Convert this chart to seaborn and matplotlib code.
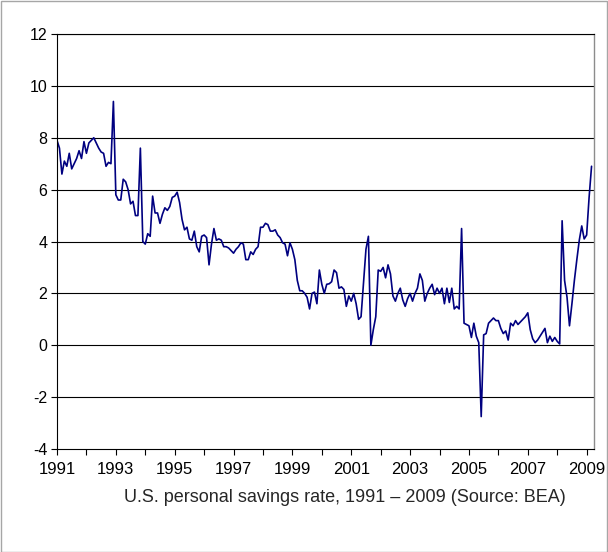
import matplotlib
matplotlib.use("Agg")
import matplotlib.pyplot as plt
import numpy as np
import pandas as pd
import seaborn as sns
from matplotlib.patches import Rectangle

# monthly personal savings rate (%), Jan 1991 onwards
rate_1991 = [7.9, 7.6, 6.6, 7.1, 6.9, 7.4, 6.8, 7.0, 7.2, 7.5, 7.2, 7.85]
rate_1992 = [7.4, 7.8, 7.9, 8.0, 7.8, 7.6, 7.45, 7.4, 6.9, 7.05, 7.0, 9.4]
rate_1993 = [5.8, 5.6, 5.6, 6.4, 6.3, 6.0, 5.45, 5.55, 5.0, 5.0, 7.6, 4.0]
rate_1994 = [3.9, 4.3, 4.2, 5.75, 5.1, 5.1, 4.7, 5.05, 5.3, 5.2, 5.35, 5.7]
rate_1995 = [5.75, 5.9, 5.5, 4.85, 4.45, 4.55, 4.1, 4.05, 4.4, 3.8, 3.6, 4.2]
rate_1996 = [4.25, 4.15, 3.1, 3.9, 4.5, 4.05, 4.1, 4.05, 3.8, 3.8, 3.75, 3.65]
rate_1997 = [3.55, 3.7, 3.8, 3.95, 3.9, 3.3, 3.3, 3.6, 3.5, 3.7, 3.8, 4.55]
rate_1998 = [4.55, 4.7, 4.65, 4.4, 4.4, 4.45, 4.25, 4.15, 3.95, 3.9, 3.45, 3.95]
rate_1999 = [3.7, 3.3, 2.5, 2.1, 2.1, 2.0, 1.85, 1.4, 2.0, 2.05, 1.6, 2.9]
rate_2000 = [2.35, 2.0, 2.35, 2.37, 2.45, 2.9, 2.8, 2.2, 2.25, 2.15, 1.5, 1.9]
rate_2001 = [1.7, 2.0, 1.6, 1.0, 1.1, 2.4, 3.7, 4.2, 0.0, 0.6, 1.1, 2.9]
rate_2002 = [2.85, 3.0, 2.6, 3.1, 2.75, 1.9, 1.7, 2.0, 2.2, 1.75, 1.5, 1.8]
rate_2003 = [2.0, 1.7, 2.0, 2.2, 2.75, 2.5, 1.7, 2.0, 2.2, 2.35, 1.95, 2.2]
rate_2004 = [2.0, 2.2, 1.6, 2.2, 1.65, 2.2, 1.4, 1.5, 1.4, 4.5, 0.85, 0.8]
rate_2005 = [0.75, 0.3, 0.85, 0.35, 0.1, -2.75, 0.4, 0.45, 0.85, 0.95, 1.05, 0.95]
rate_2006 = [0.95, 0.65, 0.45, 0.55, 0.2, 0.85, 0.75, 0.95, 0.8, 0.9, 1.0, 1.1]
rate_2007 = [1.25, 0.6, 0.25, 0.1, 0.2, 0.35, 0.5, 0.65, 0.1, 0.35, 0.15, 0.3]
rate_2008 = [0.15, 0.05, 4.8, 2.5, 1.85, 0.75, 1.6, 2.5, 3.3, 4.05, 4.6, 4.1]
rate_2009 = [4.25, 5.7, 6.9]

year_labels = ["1991", "1993", "1995", "1997", "1999", "2001", "2003", "2005", "2007", "2009"]
title_text = "U.S. personal savings rate, 1991 \u2013 2009 (Source: BEA)"

rates = (rate_1991 + rate_1992 + rate_1993 + rate_1994 + rate_1995 + rate_1996
         + rate_1997 + rate_1998 + rate_1999 + rate_2000 + rate_2001 + rate_2002
         + rate_2003 + rate_2004 + rate_2005 + rate_2006 + rate_2007 + rate_2008
         + rate_2009)
df = pd.DataFrame({"t": 1991 + np.arange(len(rates)) / 12.0, "rate": rates})

sns.set_theme(style="white")
plt.rcParams["font.family"] = ["Liberation Sans", "DejaVu Sans"]

W, H = 608, 552
fig = plt.figure(figsize=(W / 100, H / 100), dpi=100)
fig.patches.append(Rectangle((0.5 / W, 0.5 / H), 1 - 1.5 / W, 1 - 1.5 / H,
                             transform=fig.transFigure, fill=False,
                             edgecolor="#a6a6a6", linewidth=1))

ax = fig.add_axes([57 / W, 1 - 449 / H, (594 - 57) / W, (449 - 34) / H])
sns.lineplot(data=df, x="t", y="rate", color="#000080", linewidth=1.2, ax=ax)

ax.set_xlim(1991, 2009.25)
ax.set_ylim(-4, 12)
ax.set_yticks(range(-4, 13, 2))
ax.set_yticklabels([str(v) for v in range(-4, 13, 2)], fontsize=11.5, color="black")
years = list(range(1991, 2010))
ax.set_xticks(years)
ax.set_xticklabels([str(y) if str(y) in year_labels else "" for y in years],
                   fontsize=12, color="black")
ax.set_xlabel("")
ax.set_ylabel("")

ax.grid(False)
for v in range(-2, 13, 2):
    ax.axhline(v, color="black", linewidth=0.8, zorder=0)

for side in ["left", "bottom", "top"]:
    ax.spines[side].set_color("black")
    ax.spines[side].set_linewidth(0.8)
ax.spines["right"].set_color("#8c8c8c")
ax.spines["right"].set_linewidth(1.0)
ax.tick_params(axis="both", direction="out", length=4, width=0.8, color="black",
               bottom=True, left=True, pad=3)
ax.tick_params(axis="x", pad=5)

fig.text(345 / W, 1 - 497 / H, title_text, ha="center", va="center", fontsize=13)

fig.savefig("out.png", dpi=100)
